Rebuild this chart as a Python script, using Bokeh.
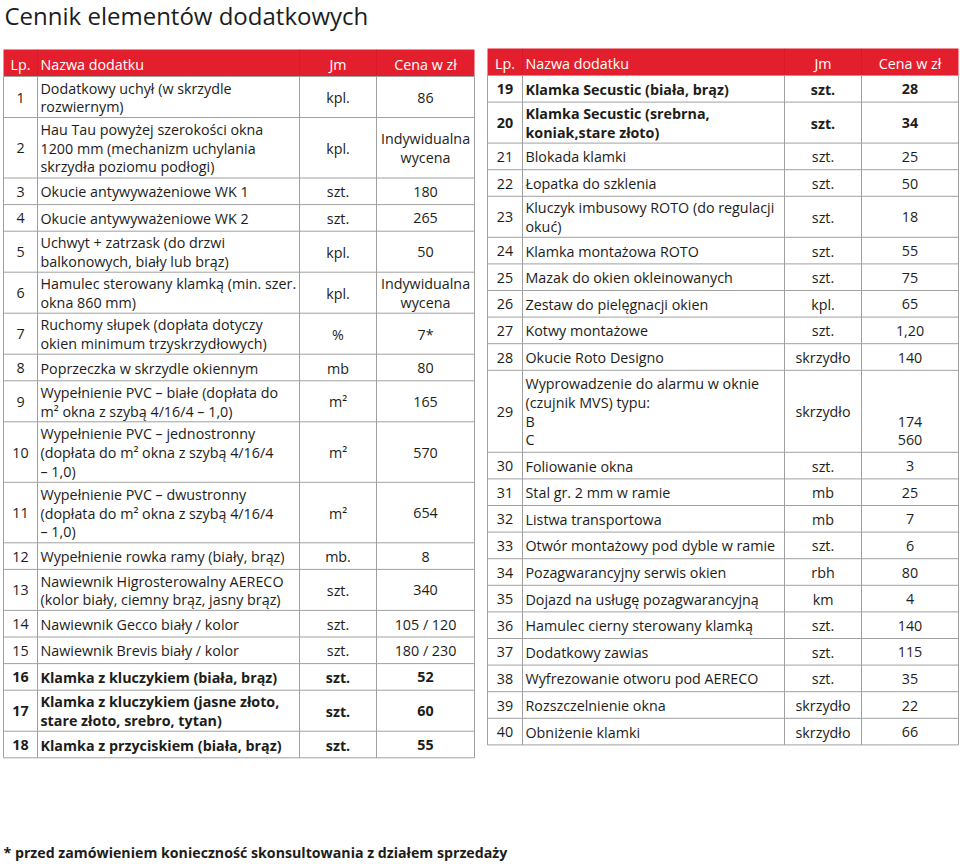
from bokeh.plotting import figure
from bokeh.models import ColumnDataSource, Range1d
from bokeh.embed import file_html
from bokeh.resources import INLINE
from bokeh.core.properties import value

# ---------------- data ----------------
TITLE = "Cennik elementów dodatkowych"
HEADERS = ["Lp.", "Nazwa dodatku", "Jm", "Cena w zł"]
FOOTNOTE = "* przed zamówieniem konieczność skonsultowania z działem sprzedaży"

left_lp = ["1", "2", "3", "4", "5", "6", "7", "8", "9", "10", "11", "12",
           "13", "14", "15", "16", "17", "18"]
left_names = [
    "Dodatkowy uchył (w skrzydle\nrozwiernym)",
    "Hau Tau powyżej szerokości okna\n1200 mm (mechanizm uchylania\nskrzydła  poziomu podłogi)",
    "Okucie antywyważeniowe WK 1",
    "Okucie antywyważeniowe WK 2",
    "Uchwyt + zatrzask  (do drzwi\nbalkonowych, biały lub brąz)",
    "Hamulec sterowany klamką (min. szer.\nokna 860 mm)",
    "Ruchomy słupek (dopłata dotyczy\nokien minimum trzyskrzydłowych)",
    "Poprzeczka w skrzydle okiennym",
    "Wypełnienie PVC – białe (dopłata do\nm² okna z szybą 4/16/4 – 1,0)",
    "Wypełnienie PVC – jednostronny\n(dopłata do m² okna z szybą 4/16/4\n– 1,0)",
    "Wypełnienie PVC – dwustronny\n(dopłata do m² okna z szybą 4/16/4\n– 1,0)",
    "Wypełnienie rowka ramy (biały, brąz)",
    "Nawiewnik Higrosterowalny AERECO\n(kolor biały, ciemny brąz, jasny brąz)",
    "Nawiewnik Gecco biały / kolor",
    "Nawiewnik Brevis biały / kolor",
    "Klamka z kluczykiem (biała, brąz)",
    "Klamka z kluczykiem (jasne złoto,\nstare złoto, srebro, tytan)",
    "Klamka z przyciskiem (biała, brąz)",
]
left_jm = ["kpl.", "kpl.", "szt.", "szt.", "kpl.", "kpl.", "%", "mb", "m²", "m²",
           "m²", "mb.", "szt.", "szt.", "szt.", "szt.", "szt.", "szt."]
left_cena = ["86", "Indywidualna\nwycena", "180", "265", "50", "Indywidualna\nwycena",
             "7*", "80", "165", "570", "654", "8", "340", "105 / 120", "180 / 230",
             "52", "60", "55"]

right_lp = [str(i) for i in [19, 20, 21, 22, 23, 24, 25, 26, 27, 28, 29,
                             30, 31, 32, 33, 34, 35, 36, 37, 38, 39, 40]]
right_names = [
    "Klamka  Secustic (biała, brąz)",
    "Klamka  Secustic (srebrna,\nkoniak,stare złoto)",
    "Blokada klamki",
    "Łopatka do szklenia",
    "Kluczyk imbusowy ROTO (do regulacji\nokuć)",
    "Klamka montażowa ROTO",
    "Mazak do okien okleinowanych",
    "Zestaw do pielęgnacji okien",
    "Kotwy  montażowe",
    "Okucie Roto Designo",
    "Wyprowadzenie do alarmu w oknie\n(czujnik MVS) typu:\nB\nC",
    "Foliowanie okna",
    "Stal gr. 2 mm w ramie",
    "Listwa transportowa",
    "Otwór montażowy pod dyble w ramie",
    "Pozagwarancyjny serwis okien",
    "Dojazd na usługę pozagwarancyjną",
    "Hamulec cierny sterowany klamką",
    "Dodatkowy zawias",
    "Wyfrezowanie otworu pod AERECO",
    "Rozszczelnienie okna",
    "Obniżenie klamki",
]
right_jm = ["szt.", "szt.", "szt.", "szt.", "szt.", "szt.", "szt.", "kpl.", "szt.",
            "skrzydło", "skrzydło", "szt.", "mb", "mb", "szt.", "rbh", "km", "szt.",
            "szt.", "szt.", "skrzydło", "skrzydło"]
right_cena = ["28", "34", "25", "50", "18", "55", "75", "65", "1,20", "140",
              " \n \n174\n560", "3", "25", "7", "6", "80", "4", "140", "115", "35",
              "22", "66"]

bold_lp = ["16", "17", "18", "19", "20"]

# ---------------- layout / style ----------------
RED = "#e41f2d"
GRID = "#a0a0a0"
INK = "#1d1d1b"
FONT = value("Open Sans")
FS = "14.3px"
HEADER_H = 27
ROW_H = {1: 26.6, 2: 41.0, 3: 60.5, 4: 82.0}

p = figure(width=960, height=864, x_range=Range1d(0, 960), y_range=Range1d(864, 0),
           output_backend="svg", toolbar_location=None, min_border=0)
p.axis.visible = False
p.grid.visible = False
p.outline_line_color = None
p.background_fill_color = "white"
p.border_fill_color = "white"


def draw_table(cols, top, lp, names, jm, cena):
    # header band
    p.quad(left=[cols[0]], right=[cols[-1]], top=[top], bottom=[top + HEADER_H],
           fill_color=RED, line_color=None)
    p.segment(x0=cols[1:-1], x1=cols[1:-1], y0=[top] * 3, y1=[top + HEADER_H] * 3,
              line_color="#c0101e", line_width=0.6, line_alpha=0.6)
    hx = [(cols[0] + cols[1]) / 2, cols[1] + 3, (cols[2] + cols[3]) / 2,
          (cols[3] + cols[4]) / 2]
    hy = [top + HEADER_H / 2 + 1] * 4
    hsrc = ColumnDataSource(dict(x=hx, y=hy, t=HEADERS,
                                 a=["center", "left", "center", "center"]))
    p.text(x="x", y="y", text="t", text_align="a", source=hsrc, text_color="white",
           text_font=FONT, text_font_size=FS, text_baseline="middle")

    # rows
    nlines = [max(s.count("\n") + 1 for s in (n, j, c)) for n, j, c in zip(names, jm, cena)]
    bounds = [top + HEADER_H]
    for n in nlines:
        bounds.append(bounds[-1] + ROW_H[n])
    mids = [(a + b) / 2 for a, b in zip(bounds[:-1], bounds[1:])]
    styles = ["bold" if l in bold_lp else "normal" for l in lp]

    # grid
    p.segment(x0=[cols[0]] * len(bounds), x1=[cols[-1]] * len(bounds),
              y0=bounds, y1=bounds, line_color=GRID, line_width=1)
    p.segment(x0=cols, x1=cols, y0=[bounds[0]] * len(cols), y1=[bounds[-1]] * len(cols),
              line_color=GRID, line_width=1)

    xs, ys, ts, als, sts = [], [], [], [], []
    cx = [(cols[0] + cols[1]) / 2, cols[1] + 3, (cols[2] + cols[3]) / 2,
          (cols[3] + cols[4]) / 2]
    for i in range(len(lp)):
        for k, (txt, al) in enumerate(zip([lp[i], names[i], jm[i], cena[i]],
                                          ["center", "left", "center", "center"])):
            xs.append(cx[k]); ys.append(mids[i] + 0.5); ts.append(txt)
            als.append(al); sts.append(styles[i])
    src = ColumnDataSource(dict(x=xs, y=ys, t=ts, a=als, s=sts))
    p.text(x="x", y="y", text="t", text_align="a", text_font_style="s", source=src,
           text_color=INK, text_font=FONT, text_font_size=FS,
           text_baseline="middle", text_line_height=0.98)


draw_table([3, 37, 299, 376, 474], 49, left_lp, left_names, left_jm, left_cena)
draw_table([487, 522, 784, 861, 958], 48, right_lp, right_names, right_jm, right_cena)

p.text(x=[4], y=[15], text=[TITLE], text_font=FONT, text_font_size="24px",
       text_color=INK, text_baseline="middle", text_align="left")
p.text(x=[3], y=[852], text=[FOOTNOTE], text_font=FONT, text_font_size="14.2px",
       text_font_style="bold", text_color=INK, text_baseline="middle", text_align="left")

open("out.html", "w").write(file_html(p, INLINE))
